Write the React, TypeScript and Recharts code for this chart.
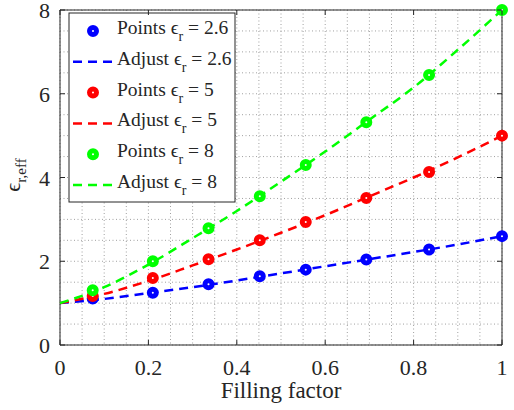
import { CartesianGrid, ComposedChart, Customized, Line, ReferenceArea, Scatter, XAxis, YAxis } from "recharts";

// measured points
const fillingFactor = [0.074, 0.21, 0.336, 0.452, 0.556, 0.693, 0.835, 1.0];
const pointsEr26 = [1.11, 1.25, 1.45, 1.64, 1.8, 2.04, 2.28, 2.6];
const pointsEr5 = [1.17, 1.6, 2.05, 2.5, 2.94, 3.51, 4.13, 5.0];
const pointsEr8 = [1.31, 2.0, 2.79, 3.55, 4.3, 5.32, 6.45, 8.0];

// adjusted curves
const fitFactor = [0, 0.1, 0.2, 0.3, 0.4, 0.5, 0.6, 0.7, 0.8, 0.9, 1.0];
const fitEr26 = [1.0, 1.1, 1.24, 1.38, 1.54, 1.71, 1.88, 2.05, 2.22, 2.4, 2.6];
const fitEr5 = [1.0, 1.22, 1.53, 1.9, 2.28, 2.68, 3.1, 3.55, 4.0, 4.48, 5.0];
const fitEr8 = [1.0, 1.38, 1.92, 2.55, 3.2, 3.9, 4.62, 5.38, 6.15, 7.05, 8.0];

const seriesEr = ["2.6", "5", "8"];
const seriesColors = ["#0000FF", "#FF0000", "#00FF00"];

const xGridTicks = [0, 0.05, 0.1, 0.15, 0.2, 0.25, 0.3, 0.35, 0.4, 0.45, 0.5, 0.55, 0.6, 0.65, 0.7, 0.75, 0.8, 0.85, 0.9, 0.95, 1];
const xTickValues = [0, 0.2, 0.4, 0.6, 0.8, 1];
const xTickLabels = ["0", "0.2", "0.4", "0.6", "0.8", "1"];
const yGridTicks = [0, 0.5, 1, 1.5, 2, 2.5, 3, 3.5, 4, 4.5, 5, 5.5, 6, 6.5, 7, 7.5, 8];
const yTickValues = [0, 2, 4, 6, 8];
const yTickLabels = ["0", "2", "4", "6", "8"];

const PLOT_LEFT = 60;
const PLOT_RIGHT = 502;
const PLOT_TOP = 10;
const PLOT_BOTTOM = 345;
const TICK_LEN = 5;
const INK = "#262626";
const serif = { fontFamily: '"Liberation Serif", "DejaVu Serif", serif' };

const toRows = (xs: number[], ys: number[]) => xs.map((x, i) => ({ x, y: ys[i] }));

const pointSets = [pointsEr26, pointsEr5, pointsEr8].map((ys) => toRows(fillingFactor, ys));
const fitSets = [fitEr26, fitEr5, fitEr8].map((ys) => toRows(fitFactor, ys));

const findIndex = (values: number[], v: number) => values.findIndex((t) => Math.abs(t - v) < 1e-6);

function XTick({ x, y, payload }: any) {
  const i = findIndex(xTickValues, payload.value);
  if (i < 0) return null;
  return (
    <g>
      <line x1={x} x2={x} y1={PLOT_BOTTOM} y2={PLOT_BOTTOM - TICK_LEN} stroke={INK} />
      <line x1={x} x2={x} y1={PLOT_TOP} y2={PLOT_TOP + TICK_LEN} stroke={INK} />
      <text x={x} y={y + 28} textAnchor="middle" fill={INK} fontSize={22} style={serif}>
        {xTickLabels[i]}
      </text>
    </g>
  );
}

function YTick({ x, y, payload }: any) {
  const i = findIndex(yTickValues, payload.value);
  if (i < 0) return null;
  return (
    <g>
      <line x1={PLOT_LEFT} x2={PLOT_LEFT + TICK_LEN} y1={y} y2={y} stroke={INK} />
      <line x1={PLOT_RIGHT} x2={PLOT_RIGHT - TICK_LEN} y1={y} y2={y} stroke={INK} />
      <text x={x - 8} y={y + 8} textAnchor="end" fill={INK} fontSize={22} style={serif}>
        {yTickLabels[i]}
      </text>
    </g>
  );
}

const ringDot = (color: string) => (props: any) =>
  <circle cx={props.cx} cy={props.cy} r={3.5} fill="#fff" stroke={color} strokeWidth={5} />;

function Decorations() {
  const rowH = 30.8;
  const firstRow = 31;
  const rows: { kind: string; k: number }[] = [];
  seriesEr.forEach((_, k) => {
    rows.push({ kind: "Points", k });
    rows.push({ kind: "Adjust", k });
  });
  return (
    <g fill={INK} style={serif}>
      <rect x={69} y={13} width={166} height={189} fill="#fff" stroke={INK} strokeWidth={1} />
      {rows.map((r, i) => {
        const cy = firstRow + i * rowH;
        const color = seriesColors[r.k];
        return (
          <g key={i}>
            {r.kind === "Points" ? (
              <circle cx={93} cy={cy} r={3.5} fill="#fff" stroke={color} strokeWidth={5} />
            ) : (
              <line x1={73} x2={113} y1={cy} y2={cy} stroke={color} strokeWidth={2.5} strokeDasharray="9 6" />
            )}
            <text x={117} y={cy + 3} fontSize={19.5} style={serif}>
              {r.kind} ϵ
              <tspan fontSize={14} dy={7}>r</tspan>
              <tspan dy={-7}> = {seriesEr[r.k]}</tspan>
            </text>
          </g>
        );
      })}
      <text transform="translate(20,175) rotate(-90)" textAnchor="middle" fontSize={22} style={serif}>
        ϵ<tspan fontSize={15} dy={6}>r,eff</tspan>
      </text>
      <text x={281} y={398} textAnchor="middle" fontSize={23} style={serif}>
        Filling factor
      </text>
    </g>
  );
}

export default function App() {
  return (
    <div style={{ position: "absolute", left: 0, top: 0, background: "#fff", ...serif }}>
      <ComposedChart width={514} height={410} margin={{ top: PLOT_TOP, right: 514 - PLOT_RIGHT, left: 0, bottom: 0 }}>
        <CartesianGrid stroke="#a0a0a0" strokeDasharray="1 2.5" />
        <XAxis
          type="number"
          dataKey="x"
          domain={[0, 1]}
          ticks={xGridTicks}
          interval={0}
          height={410 - PLOT_BOTTOM}
          tickSize={0}
          tickLine={false}
          axisLine={false}
          tick={<XTick />}
        />
        <YAxis
          type="number"
          dataKey="y"
          domain={[0, 8]}
          ticks={yGridTicks}
          interval={0}
          width={PLOT_LEFT}
          tickSize={0}
          tickLine={false}
          axisLine={false}
          tick={<YTick />}
        />
        <ReferenceArea x1={0} x2={1} y1={0} y2={8} fill="none" stroke={INK} strokeWidth={1} />
        {fitSets.map((rows, k) => (
          <Line
            key={`fit${k}`}
            data={rows}
            dataKey="y"
            type="monotone"
            stroke={seriesColors[k]}
            strokeWidth={2.5}
            strokeDasharray="9 6"
            dot={false}
            isAnimationActive={false}
          />
        ))}
        {pointSets.map((rows, k) => (
          <Scatter
            key={`pts${k}`}
            data={rows}
            dataKey="y"
            shape={ringDot(seriesColors[k])}
            isAnimationActive={false}
          />
        ))}
        <Customized component={<Decorations />} />
      </ComposedChart>
    </div>
  );
}
